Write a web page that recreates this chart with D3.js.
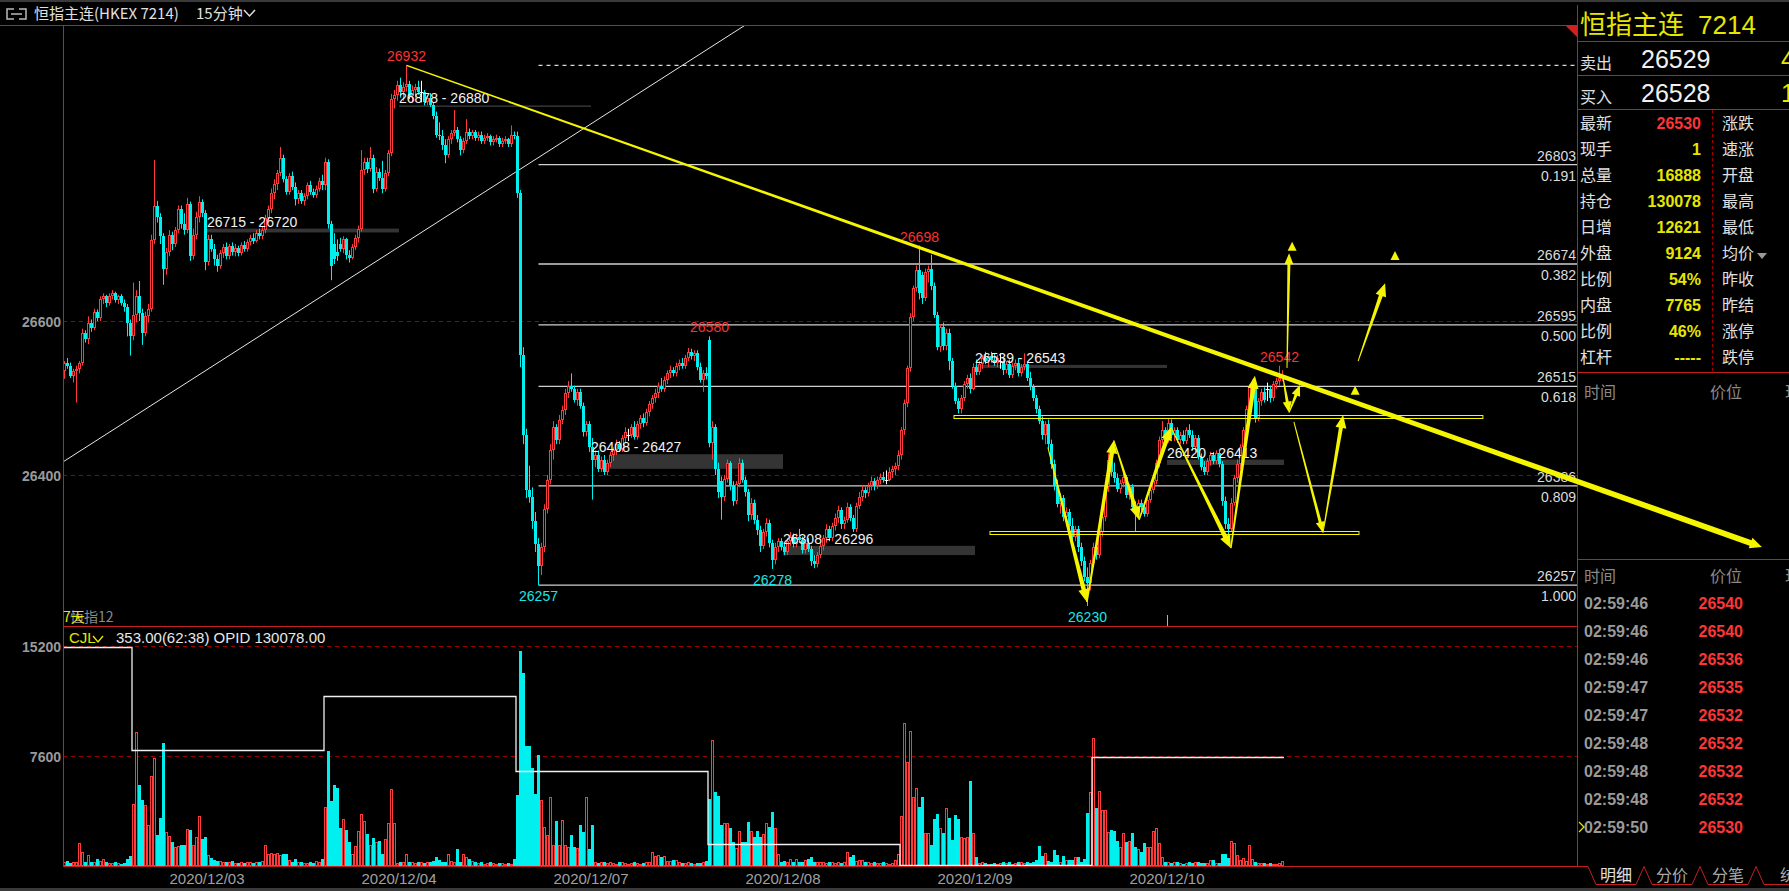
<!DOCTYPE html>
<html><head><meta charset="utf-8">
<script src="https://cdn.jsdelivr.net/npm/d3@7"></script>
<style>
html,body{margin:0;padding:0;background:#000;overflow:hidden}
svg{display:block}
text{font-family:"Liberation Sans",Arial,sans-serif}
.cjk{font-family:"Noto Sans CJK SC","Liberation Sans",sans-serif}
</style></head><body>
<svg id="c" width="1789" height="891"></svg>
<script>
// ---------------- DATA ----------------
// 15-minute bars [open, high, low, close]
const candles = [
// 12/02 night tail (0-22)
[26535,26548,26525,26545],[26545,26552,26538,26541],[26541,26546,26526,26528],[26528,26538,26520,26535],[26535,26542,26494,26538],
[26538,26548,26532,26545],[26545,26590,26542,26584],[26584,26588,26572,26576],[26576,26606,26570,26598],[26598,26602,26586,26591],
[26591,26616,26588,26612],[26612,26615,26600,26604],[26604,26632,26600,26628],[26628,26636,26622,26632],[26632,26634,26618,26624],
[26624,26636,26620,26632],[26632,26640,26628,26636],[26636,26638,26624,26627],[26627,26634,26622,26632],[26632,26635,26620,26624],
[26624,26628,26612,26618],[26618,26622,26580,26598],[26598,26602,26555,26580],
// 12/03 (23-86)
[26580,26650,26575,26608],[26608,26640,26598,26632],[26632,26652,26600,26610],[26610,26616,26569,26585],[26585,26612,26580,26606],
[26606,26622,26598,26616],[26616,26712,26612,26705],[26705,26809,26700,26750],[26750,26756,26728,26735],[26735,26740,26700,26710],
[26710,26714,26647,26668],[26668,26695,26660,26690],[26690,26718,26684,26712],[26712,26716,26692,26700],[26700,26722,26696,26718],
[26718,26750,26714,26745],[26745,26750,26720,26726],[26726,26740,26712,26718],[26718,26760,26714,26752],[26752,26755,26678,26684],
[26684,26720,26680,26712],[26712,26742,26706,26735],[26735,26762,26728,26755],[26755,26758,26735,26740],[26740,26744,26666,26676],
[26676,26712,26672,26706],[26706,26712,26690,26694],[26694,26700,26672,26680],[26680,26686,26664,26672],[26672,26692,26668,26688],
[26688,26700,26682,26696],[26696,26702,26680,26684],[26684,26700,26680,26697],[26697,26702,26685,26690],[26690,26700,26684,26695],
[26695,26698,26684,26688],[26688,26702,26685,26699],[26699,26704,26690,26694],
[26694,26706,26690,26702],[26702,26712,26698,26708],[26708,26714,26700,26704],[26704,26718,26702,26714],[26714,26720,26706,26710],
[26710,26722,26706,26718],[26718,26738,26714,26734],[26734,26750,26730,26746],[26746,26772,26740,26766],[26766,26784,26758,26778],
[26778,26796,26770,26792],[26792,26826,26788,26812],[26812,26816,26780,26784],[26784,26788,26764,26768],[26768,26792,26764,26788],
[26788,26794,26770,26774],[26774,26780,26750,26758],[26758,26770,26752,26766],[26766,26770,26752,26756],[26756,26766,26750,26762],
[26762,26780,26758,26776],[26776,26782,26764,26768],[26768,26772,26760,26764],[26764,26776,26760,26772],[26772,26786,26768,26782],
[26782,26790,26770,26776],
// 12/04 (87-150)
[26776,26812,26770,26806],[26806,26810,26720,26726],[26726,26730,26653,26672],[26700,26714,26674,26680],[26690,26706,26678,26684],
[26700,26708,26690,26694],[26694,26710,26688,26706],[26706,26708,26680,26686],[26686,26692,26676,26682],[26682,26700,26680,26696],
[26696,26712,26692,26708],[26708,26724,26702,26720],[26720,26822,26716,26796],[26796,26812,26790,26806],[26806,26812,26792,26798],
[26798,26826,26794,26812],[26812,26816,26766,26772],[26772,26800,26768,26794],[26794,26798,26782,26786],[26786,26808,26766,26772],
[26772,26796,26768,26792],[26792,26822,26788,26818],[26818,26895,26814,26888],[26888,26900,26876,26894],[26894,26912,26886,26906],
[26906,26916,26890,26898],[26898,26910,26886,26904],[26904,26932,26898,26908],[26908,26912,26888,26892],[26892,26906,26884,26900],
[26900,26908,26890,26904],[26904,26912,26894,26898],[26898,26912,26884,26898],[26898,26900,26880,26884],[26884,26892,26880,26890],
[26890,26896,26878,26880],[26880,26884,26862,26866],[26866,26872,26838,26842],[26842,26858,26835,26840],[26840,26848,26822,26828],
[26828,26836,26805,26815],[26815,26840,26812,26836],[26836,26848,26830,26844],[26844,26874,26840,26848],[26848,26852,26832,26836],
[26836,26840,26815,26822],[26822,26838,26818,26834],[26834,26862,26830,26846],[26846,26850,26836,26840],[26840,26848,26836,26845],
[26845,26848,26834,26838],[26838,26846,26834,26842],[26842,26846,26830,26834],[26834,26842,26830,26838],[26838,26844,26834,26840],
[26840,26842,26828,26832],[26832,26840,26828,26836],[26836,26842,26832,26838],[26838,26840,26826,26830],[26830,26838,26826,26834],
[26834,26840,26830,26836],[26836,26838,26826,26830],[26830,26854,26826,26842],[26842,26846,26836,26840],
// 12/07 (151-214)
[26840,26846,26760,26766],[26766,26770,26540,26556],[26556,26566,26440,26452],[26452,26460,26370,26380],[26380,26412,26364,26372],
[26372,26384,26330,26340],[26340,26352,26300,26310],[26310,26318,26257,26282],[26282,26312,26270,26306],[26306,26362,26300,26356],
[26356,26400,26350,26394],[26394,26440,26388,26432],[26432,26470,26420,26462],[26462,26466,26440,26446],[26446,26478,26440,26472],
[26472,26490,26466,26484],[26484,26512,26478,26506],[26506,26522,26500,26516],[26516,26532,26508,26512],[26512,26516,26494,26498],
[26498,26512,26490,26508],[26508,26512,26486,26490],[26490,26494,26450,26456],[26456,26470,26450,26466],[26466,26470,26430,26436],
[26436,26448,26368,26420],[26420,26432,26410,26426],[26426,26432,26404,26408],[26408,26424,26404,26420],[26420,26426,26400,26404],
[26404,26420,26400,26416],[26416,26430,26410,26426],[26426,26436,26418,26432],[26432,26446,26426,26440],[26440,26444,26430,26434],
[26434,26452,26430,26448],[26448,26462,26442,26456],[26452,26460,26444,26452],[26452,26466,26448,26462],[26462,26470,26446,26450],
[26450,26470,26446,26466],[26466,26478,26460,26474],[26474,26480,26462,26468],[26468,26486,26464,26482],[26482,26496,26476,26492],
[26492,26504,26486,26500],[26500,26512,26494,26506],[26506,26520,26500,26516],[26516,26526,26508,26512],[26512,26528,26508,26524],
[26524,26536,26518,26532],[26532,26542,26526,26536],[26536,26540,26528,26532],[26532,26546,26528,26542],[26542,26550,26536,26546],
[26546,26552,26538,26542],[26542,26556,26538,26552],[26552,26565,26548,26560],[26560,26564,26550,26554],[26554,26562,26548,26558],
[26558,26562,26536,26540],[26540,26546,26520,26524],[26524,26536,26508,26532],[26532,26540,26524,26528],
// 12/08 (215-278)
[26575,26580,26436,26442],[26442,26470,26420,26462],[26462,26466,26400,26408],[26408,26416,26370,26378],[26392,26398,26342,26372],
[26372,26400,26366,26395],[26395,26420,26390,26415],[26415,26418,26380,26386],[26386,26392,26360,26366],[26366,26392,26362,26388],
[26388,26422,26384,26416],[26416,26420,26390,26394],[26394,26398,26372,26378],[26378,26382,26340,26348],[26348,26370,26342,26364],
[26364,26368,26336,26342],[26342,26348,26322,26328],[26328,26334,26300,26308],[26308,26330,26304,26326],[26326,26344,26320,26338],
[26338,26342,26306,26312],[26312,26316,26278,26290],[26290,26312,26284,26306],[26306,26318,26300,26314],[26314,26318,26302,26306],
[26306,26312,26296,26300],[26300,26318,26296,26314],[26314,26326,26308,26320],[26320,26324,26306,26310],[26310,26324,26306,26320],
[26320,26330,26312,26316],[26316,26320,26298,26302],[26302,26316,26298,26312],[26312,26318,26300,26304],[26304,26308,26282,26288],
[26288,26296,26279,26284],[26284,26300,26280,26296],[26296,26312,26292,26308],[26308,26322,26302,26318],[26318,26336,26312,26330],
[26330,26334,26314,26318],[26318,26338,26314,26334],[26334,26350,26328,26344],[26344,26360,26338,26354],[26354,26358,26330,26336],
[26336,26346,26330,26342],[26342,26364,26338,26358],[26358,26362,26340,26344],[26344,26348,26326,26330],[26330,26364,26326,26360],
[26360,26378,26356,26372],[26372,26386,26366,26380],[26380,26384,26370,26376],[26376,26390,26372,26386],[26386,26398,26380,26392],
[26392,26396,26380,26386],[26386,26398,26382,26394],[26394,26402,26388,26398],[26398,26404,26390,26394],[26394,26406,26388,26394],
[26394,26410,26392,26404],[26404,26412,26396,26408],[26408,26416,26400,26412],[26412,26432,26406,26426],
// 12/09 (279-342)
[26426,26462,26420,26458],[26458,26498,26452,26494],[26494,26542,26488,26539],[26539,26610,26534,26605],[26605,26646,26600,26643],
[26643,26672,26638,26666],[26666,26698,26628,26636],[26660,26664,26622,26630],[26630,26668,26626,26664],[26664,26672,26650,26668],
[26668,26686,26640,26646],[26646,26650,26604,26608],[26608,26612,26562,26566],[26566,26596,26560,26592],[26592,26598,26562,26568],
[26568,26590,26562,26584],[26584,26590,26536,26548],[26548,26552,26512,26516],[26516,26520,26492,26496],[26496,26500,26480,26486],
[26486,26504,26480,26500],[26500,26522,26496,26518],[26518,26530,26512,26526],[26526,26532,26506,26512],[26512,26545,26510,26540],
[26540,26550,26530,26534],[26534,26548,26530,26544],[26544,26556,26538,26552],[26552,26560,26544,26548],[26548,26556,26540,26554],
[26554,26560,26546,26550],[26550,26558,26542,26545],[26545,26556,26540,26552],[26548,26558,26538,26548],[26548,26552,26530,26536],
[26536,26548,26532,26544],[26544,26550,26526,26530],[26530,26546,26526,26542],[26542,26550,26536,26546],[26546,26552,26528,26532],
[26532,26544,26528,26540],[26540,26558,26536,26544],[26544,26548,26522,26526],[26526,26534,26510,26514],[26514,26518,26496,26500],
[26500,26504,26480,26486],[26486,26490,26466,26470],[26470,26476,26446,26452],[26452,26470,26440,26466],[26466,26472,26434,26440],
[26440,26446,26408,26414],[26414,26420,26380,26386],[26386,26394,26358,26362],[26362,26376,26350,26370],[26370,26374,26340,26346],
[26346,26358,26334,26352],[26352,26356,26328,26334],[26334,26344,26316,26320],[26320,26334,26314,26330],[26330,26334,26300,26306],
[26306,26312,26282,26288],[26288,26294,26262,26268],[26268,26280,26230,26260],[26260,26290,26250,26286],
// 12/10 (343-406)
[26286,26312,26280,26306],[26306,26314,26290,26296],[26296,26330,26292,26326],[26326,26352,26320,26346],[26346,26390,26340,26384],
[26384,26428,26378,26420],[26420,26426,26398,26404],[26404,26416,26390,26396],[26396,26402,26378,26382],[26382,26394,26376,26390],
[26390,26404,26384,26398],[26398,26400,26370,26374],[26374,26388,26368,26384],[26384,26388,26354,26358],[26358,26366,26326,26352],
[26352,26368,26348,26364],[26364,26368,26354,26358],[26358,26364,26346,26350],[26350,26372,26346,26368],[26368,26384,26364,26380],
[26380,26396,26376,26392],[26392,26420,26388,26416],[26416,26450,26410,26446],[26446,26470,26440,26458],[26458,26462,26440,26446],
[26446,26474,26442,26468],[26468,26472,26448,26452],[26452,26462,26444,26458],[26458,26462,26442,26446],[26446,26456,26440,26452],
[26452,26458,26440,26444],[26444,26462,26440,26458],[26458,26466,26448,26452],[26452,26458,26432,26436],[26436,26452,26430,26448],
[26448,26452,26420,26424],[26424,26428,26406,26410],[26410,26418,26400,26404],[26404,26422,26400,26418],[26418,26430,26412,26426],
[26426,26430,26414,26418],[26418,26432,26414,26428],[26428,26432,26410,26414],[26414,26418,26360,26366],[26366,26372,26330,26336],
[26336,26344,26320,26330],[26330,26370,26326,26364],[26364,26400,26360,26396],[26396,26420,26390,26414],[26414,26440,26408,26436],
[26436,26462,26430,26458],[26458,26490,26452,26486],[26486,26518,26480,26514],[26514,26524,26506,26518],[26518,26522,26468,26474],
[26474,26500,26470,26496],[26496,26512,26490,26508],[26508,26514,26494,26498],[26512,26520,26496,26512],[26512,26516,26494,26500],
[26500,26522,26496,26518],[26518,26526,26512,26522],[26522,26542,26516,26526],[26526,26536,26522,26530]
];
// volume (CJL) per bar
const volumes = [
300,350,200,300,250,1600,970,300,760,250,300,480,350,500,280,200,180,250,200,150,180,480,700,
4300,9260,5600,4560,4200,2830,6220,7460,2140,3320,8500,2350,2070,1680,1330,1380,1450,1450,2560,2490,1450,2030,3450,1900,2000,760,530,400,
350,380,250,300,280,350,200,220,260,200,300,260,200,300,250,350,1450,810,900,820,900,760,800,800,400,300,450,250,300,200,220,250,200,350,250,480,
4080,7950,4500,5600,5400,2630,3250,2500,1660,800,1380,2420,3600,3100,2220,1450,1950,1660,1730,840,1850,3000,5300,2950,200,250,300,800,300,250,200,250,300,200,250,300,350,620,400,300,250,830,380,250,1180,300,830,600,500,350,300,200,250,150,200,250,200,150,200,180,150,200,150,500,
4900,14860,13340,8290,8290,6770,4980,7670,4560,2720,2140,4770,1450,3110,1450,3180,1450,1330,2140,1290,1220,2830,2370,4770,1150,2830,300,200,250,300,200,250,200,150,250,300,200,150,200,250,200,150,200,250,300,970,700,760,650,700,350,350,410,410,300,200,200,250,200,150,200,180,250,370,
4630,8700,5100,4850,2830,3000,3000,2650,1660,1250,2440,1680,1680,3040,2400,2000,2450,2000,2200,2950,2700,3730,2600,800,300,350,250,500,300,450,300,250,400,500,650,300,250,300,250,200,250,300,200,250,200,250,970,650,780,350,400,400,250,300,200,250,200,180,250,200,150,200,400,800,
3450,9880,7190,9330,4770,5390,4080,4770,2280,2300,1450,3250,3600,2630,2280,4010,3320,1800,3520,3250,2000,1950,2000,5870,2300,620,200,250,200,150,150,200,150,200,250,200,300,150,200,300,250,200,250,200,300,410,1380,690,920,350,300,1100,750,300,690,400,400,400,590,590,300,500,3680,5130,
8850,4000,5200,3850,3850,2350,2470,2400,1750,1290,2260,1680,1750,2260,1340,1150,990,1560,1290,1290,2420,2650,1560,640,300,250,200,250,300,200,150,200,250,200,300,250,230,230,200,410,410,230,230,830,830,550,1730,1600,740,410,530,350,1450,480,300,230,230,180,160,200,150,160,230,350
];
// daily step line in the volume pane (value per trading day, starting bar index)
const stepStarts = [-0.5, 22.5, 86.5, 150.5, 214.5, 278.5, 342.5];
const stepValues = [15100, 7990, 11750, 6570, 1520, 100, 7530];
const stepEnd = 406.5;
// axis ticks
const priceTicks = [26600, 26400];
const volTicks = [15200, 7600];
const dateLabels = ["2020/12/03","2020/12/04","2020/12/07","2020/12/08","2020/12/09","2020/12/10"];
const dateIdx = [47.5, 111.5, 175.5, 239.5, 303.5, 367.5];
// fibonacci retracement (anchored at low bar 158)
const fibStart = 158;
const fibLevels = [26932, 26803, 26674, 26595, 26515, 26386, 26257];
const fibRatios = ["0.000","0.191","0.382","0.500","0.618","0.809","1.000"];
// price zones: [startIdx, endIdx, low, high, label]
const zones = [
 [47.5,111.5,26715,26720,"26715 - 26720"],
 [111.5,175.5,26878,26880,"26878 - 26880"],
 [181.5,239.5,26408,26427,"26408 - 26427"],
 [239.5,303.5,26296,26308,"26308 - 26296"],
 [303.5,367.5,26539,26543,"26539 - 26543"],
 [367.5,406.5,26413,26420,"26420 - 26413"]
];
const zoneLabelIdx = [47.5,111.5,175.5,239.5,303.5,367.5];
// marked highs / lows [barIdx, price]
const highMarks = [[114,26932],[285,26698],[215,26580],[405,26542]];
const lowMarks = [[158,26257],[236,26278],[341,26230]];
// drawn trend lines
const trendDown = {from:[114,26932], to:[565.8,26306.5]};
const trendUp = {from:[-0.5,26417], to:[226.8,26984]};
const channels = [[296.5,472.8,26475],[308.5,431.5,26325]];
// yellow scenario arrows [fromIdx, fromPrice, toIdx, toPrice, tailW, headW]
const arrows = [
 [327.8,26436,340.8,26235,1,4.5],[340.8,26235,349.8,26445,1.5,4.5],[349.8,26445,358.2,26342,1,4],
 [358.2,26342,368.8,26462,1.5,4.5],[368.8,26462,388.8,26305,1,4.5],[388.8,26305,396.8,26529,1.5,4.5],
 [406.2,26526,408.2,26481,1,3],[408.2,26481,411.8,26517,1,3],[407.5,26539,408.2,26688,1,3],
 [409.8,26469,419.5,26325,1,3],[419.5,26325,426.2,26478,1,4],[431.2,26548,440.2,26649,1,4]
];
const arrowTips = [[409.2,26703],[430.2,26516],[443.5,26691]];
// right panel
const quoteLabelsL = ["最新","现手","总量","持仓","日增","外盘","比例","内盘","比例","杠杆"];
const quoteValues = ["26530","1","16888","130078","12621","9124","54%","7765","46%","-----"];
const quoteLabelsR = ["涨跌","速涨","开盘","最高","最低","均价","昨收","昨结","涨停","跌停"];
const tickTimes = ["02:59:46","02:59:46","02:59:46","02:59:47","02:59:47","02:59:48","02:59:48","02:59:48","02:59:50"];
const tickPrices = [26540,26540,26536,26535,26532,26532,26532,26532,26530];
const tabs = ["明细","分价","分笔","统"];

// ---------------- DRAW ----------------
const W=1789,H=891;
const PL=63, PR=1577, PT=25, PB=626, VB=866;
const RED='#ff3a3a', CYAN='#00f0f0', YEL='#f5f500', LINE='#c41e1e', DASH='#a00000';
const svg=d3.select('#c');
svg.append('rect').attr('width',W).attr('height',H).attr('fill','#000');
svg.append('rect').attr('width',W).attr('height',2).attr('fill','#3a3a3a');
svg.append('rect').attr('y',888).attr('width',W).attr('height',3).attr('fill','#3a3a3a');

const x=d3.scaleLinear().domain([-0.5,-0.5+(PR-PL)/3]).range([PL,PR]);
const y=d3.scaleLinear().domain([26400,26600]).range([475,321]);
const yv=d3.scaleLinear().domain([0,15200]).range([VB,646]);

const defs=svg.append('defs');
defs.append('clipPath').attr('id','cm').append('rect').attr('x',PL).attr('y',PT).attr('width',PR-PL).attr('height',PB-PT);
defs.append('clipPath').attr('id','cv').append('rect').attr('x',PL).attr('y',PB).attr('width',PR-PL).attr('height',VB-PB);

// grid dashed
priceTicks.forEach(p=>{
  const yy=Math.round(y(p))+0.5;
  svg.append('line').attr('x1',PL).attr('x2',PR).attr('y1',yy).attr('y2',yy).attr('stroke',DASH).attr('stroke-dasharray','4,4');
  svg.append('text').attr('x',61).attr('y',yy+5).attr('text-anchor','end').attr('fill','#9a9a9a').attr('font-weight','bold').attr('font-size',14).text(p);
});
volTicks.forEach(v=>{
  const yy=Math.round(yv(v))+0.5;
  svg.append('line').attr('x1',PL).attr('x2',PR).attr('y1',yy).attr('y2',yy).attr('stroke',DASH).attr('stroke-dasharray','4,4');
  svg.append('text').attr('x',61).attr('y',yy+5).attr('text-anchor','end').attr('fill','#9a9a9a').attr('font-weight','bold').attr('font-size',14).text(v);
});

// fib lines
const gm=svg.append('g').attr('clip-path','url(#cm)');
fibLevels.forEach((p,k)=>{
  const yy=y(p);
  const ln=gm.append('line').attr('x1',x(fibStart)).attr('x2',PR).attr('y1',yy).attr('y2',yy)
    .attr('stroke',k===0?'#d8d8d8':'#cfcfcf').attr('stroke-width',1.3);
  if(k===0) ln.attr('stroke-dasharray','4,4');
  else {
    svg.append('text').attr('x',1576).attr('y',yy-4).attr('text-anchor','end').attr('fill','#dcdcdc').attr('font-size',14).text(p);
    svg.append('text').attr('x',1576).attr('y',yy+16).attr('text-anchor','end').attr('fill','#dcdcdc').attr('font-size',14).text(fibRatios[k]);
  }
});

// zones
zones.forEach((z,k)=>{
  const y1=y(z[3]), y2=y(z[2]);
  gm.append('rect').attr('x',x(z[0])).attr('width',x(z[1])-x(z[0])).attr('y',y1).attr('height',Math.max(1.5,y2-y1)).attr('fill','#343434');
});

// white up trend line
gm.append('line').attr('x1',x(trendUp.from[0])).attr('y1',y(trendUp.from[1])).attr('x2',x(trendUp.to[0])).attr('y2',y(trendUp.to[1]))
  .attr('stroke','#e6e6e6').attr('stroke-width',1);

// candles
candles.forEach((d,i)=>{
  const [o,h,l,c]=d; const cx=x(i);
  if(o===c){
    gm.append('line').attr('x1',cx).attr('x2',cx).attr('y1',y(h)).attr('y2',y(l)).attr('stroke','#fff');
    gm.append('line').attr('x1',cx-2).attr('x2',cx+2).attr('y1',Math.round(y(o))+.5).attr('y2',Math.round(y(o))+.5).attr('stroke','#fff');
    return;
  }
  const up=c>o, col=up?RED:CYAN;
  gm.append('line').attr('x1',cx).attr('x2',cx).attr('y1',y(h)).attr('y2',y(l)).attr('stroke',col);
  const top=Math.round(y(Math.max(o,c))), bot=Math.round(y(Math.min(o,c)));
  if(up){
    gm.append('rect').attr('x',cx-1).attr('y',top+.5).attr('width',2).attr('height',Math.max(1,bot-top-1)).attr('fill','#000').attr('stroke',RED);
  } else {
    gm.append('rect').attr('x',cx-1.5).attr('y',top).attr('width',3).attr('height',Math.max(1,bot-top)).attr('fill',CYAN);
  }
});

// volume bars
const gv=svg.append('g').attr('clip-path','url(#cv)');
volumes.forEach((v,i)=>{
  const d=candles[i]; const up=d[3]>=d[0]; const cx=x(i);
  const top=Math.round(yv(v));
  if(up){
    gv.append('rect').attr('x',cx-1).attr('y',top+.5).attr('width',2).attr('height',Math.max(0.5,VB-top-1)).attr('fill','#000').attr('stroke',RED);
  } else {
    gv.append('rect').attr('x',cx-1.5).attr('y',top).attr('width',3).attr('height',Math.max(1,VB-top)).attr('fill',CYAN);
  }
});
// step line
const stepPts=[];
stepValues.forEach((v,k)=>{
  const e=k<stepValues.length-1?stepStarts[k+1]:stepEnd;
  stepPts.push([x(stepStarts[k]),Math.round(yv(v))+.5],[x(e),Math.round(yv(v))+.5]);
});
gv.append('path').attr('d',d3.line()(stepPts)).attr('fill','none').attr('stroke','#f0f0f0').attr('stroke-width',1.3);

// zone labels
zones.forEach((z,k)=>{
  svg.append('text').attr('x',x(zoneLabelIdx[k])).attr('y',y(z[3])-2).attr('fill','#f2f2f2').attr('font-size',14).text(z[4]);
});
// high / low marks
highMarks.forEach(m=>svg.append('text').attr('x',x(m[0])).attr('y',y(m[1])-4).attr('text-anchor','middle').attr('fill','#ff3030').attr('font-size',14).text(m[1]));
lowMarks.forEach(m=>svg.append('text').attr('x',x(m[0])).attr('y',y(m[1])+16).attr('text-anchor','middle').attr('fill','#19e6e6').attr('font-size',14).text(m[1]));

// channels (double yellow)
channels.forEach(c=>{
  svg.append('rect').attr('x',x(c[0])).attr('width',x(c[1])-x(c[0])).attr('y',Math.round(y(c[2]))-1.5).attr('height',3)
    .attr('fill','none').attr('stroke',YEL).attr('stroke-width',1);
});

// ----- frame lines
function hl(x1,x2,yy,col){svg.append('line').attr('x1',x1).attr('x2',x2).attr('y1',yy).attr('y2',yy).attr('stroke',col||LINE).attr('shape-rendering','crispEdges');}
function vl(xx,y1,y2,col){svg.append('line').attr('x1',xx).attr('x2',xx).attr('y1',y1).attr('y2',y2).attr('stroke',col||LINE).attr('shape-rendering','crispEdges');}
hl(0,PR,25.5); vl(PL+.5,25,VB); hl(PL,PR,PB+.5); hl(PL,1588,VB+.5); vl(PR+.5,5,VB);
hl(PR,W,41.5); hl(PR,W,75.5); hl(PR,W,109.5); hl(PR,W,372.5); hl(PR,W,559.5);
svg.append('line').attr('x1',1712.5).attr('x2',1712.5).attr('y1',110).attr('y2',372).attr('stroke',DASH).attr('stroke-dasharray','3,3');
svg.append('path').attr('d','M1565,25 L1577,25 L1577,37 Z').attr('fill','#d02020');
vl(x(367.5),615,626,'#b0b0b0');

// tabs
tabs.forEach((t,k)=>{
  const x0=1588+56*k;
  svg.append('path').attr('d',`M${x0},866.5 L${x0+8},884.5 L${x0+48},884.5 L${x0+56},866.5`).attr('fill','none').attr('stroke',LINE);
  svg.append('text').attr('class','cjk').attr('x',x0+28+(k===3?-4:0)).attr('y',881).attr('text-anchor',k===3?'start':'middle')
    .attr('fill',k===0?'#e0e0e0':'#a8a8a8').attr('font-size',16).text(t);
});

// header
svg.append('path').attr('d','M14,9 H7 V19 H14 M19,9 H26 V19 H19 M11,14 H22').attr('fill','none').attr('stroke','#bbb').attr('stroke-width',1.5);
svg.append('text').attr('class','cjk').attr('x',34).attr('y',19).attr('fill','#e0e0e0').attr('font-size',15).text('恒指主连(HKEX 7214)');
svg.append('text').attr('class','cjk').attr('x',196).attr('y',19).attr('fill','#e0e0e0').attr('font-size',15).text('15分钟');
svg.append('path').attr('d','M244,10 L249.5,16 L255,10').attr('fill','none').attr('stroke','#e0e0e0').attr('stroke-width',1.5);

// lower-left indicator labels
svg.append('text').attr('class','cjk').attr('x',70).attr('y',622).attr('fill','#8a8a8a').attr('font-size',14).text('恒指12');
svg.append('text').attr('class','cjk').attr('x',63).attr('y',622).attr('fill','#e6e600').attr('font-size',14).text('7天');
svg.append('text').attr('x',69).attr('y',643).attr('fill','#e6e600').attr('font-size',15).text('CJL');
svg.append('path').attr('d','M93,636 L98,642 L103,636').attr('fill','none').attr('stroke','#e6e600').attr('stroke-width',1.4);
svg.append('text').attr('x',116).attr('y',643).attr('fill','#e8e8e8').attr('font-size',15).text('353.00(62:38)  OPID 130078.00');

// date labels
dateLabels.forEach((t,k)=>svg.append('text').attr('x',x(dateIdx[k])).attr('y',884).attr('text-anchor','middle').attr('fill','#a0a0a0').attr('font-size',15).text(t));

// yellow arrows
function arrowPoly(x0,y0,x1,y1,w0,w1,hlen,hw){
  const dx=x1-x0, dy=y1-y0, L=Math.hypot(dx,dy), ux=dx/L, uy=dy/L, nx=-uy, ny=ux;
  const sx=x1-ux*hlen, sy=y1-uy*hlen;
  return [[x0+nx*w0/2,y0+ny*w0/2],[sx+nx*w1/2,sy+ny*w1/2],[sx+nx*hw/2,sy+ny*hw/2],[x1,y1],[sx-nx*hw/2,sy-ny*hw/2],[sx-nx*w1/2,sy-ny*w1/2],[x0-nx*w0/2,y0-ny*w0/2]];
}
const ag=svg.append('g');
ag.append('polygon').attr('points',arrowPoly(x(trendDown.from[0]),y(trendDown.from[1]),x(trendDown.to[0]),y(trendDown.to[1]),1.5,6,12,11).map(p=>p.join(',')).join(' ')).attr('fill',YEL);
arrows.forEach(a=>{
  const big=a[5]>=4;
  ag.append('polygon').attr('points',arrowPoly(x(a[0]),y(a[1]),x(a[2]),y(a[3]),a[4],a[5],big?13:11,big?11:9).map(p=>p.join(',')).join(' ')).attr('fill',YEL);
});
arrowTips.forEach(t=>{
  const tx=x(t[0]), ty=y(t[1]);
  ag.append('polygon').attr('points',`${tx},${ty} ${tx-4.5},${ty+9} ${tx+4.5},${ty+9}`).attr('fill',YEL);
});

// ----- right panel
const rp=svg.append('g');
rp.append('text').attr('x',1580).attr('y',34).attr('fill','#e6e600').attr('font-size',26)
  .call(t=>{t.append('tspan').attr('class','cjk').text('恒指主连');t.append('tspan').attr('dx',14).text('7214');});
rp.append('text').attr('class','cjk').attr('x',1580).attr('y',69).attr('fill','#e0e0e0').attr('font-size',16).text('卖出');
rp.append('text').attr('x',1641).attr('y',68).attr('fill','#f0f0f0').attr('font-size',25).text('26529');
rp.append('text').attr('x',1781).attr('y',68).attr('fill','#e6e600').attr('font-size',25).text('4');
rp.append('text').attr('class','cjk').attr('x',1580).attr('y',103).attr('fill','#e0e0e0').attr('font-size',16).text('买入');
rp.append('text').attr('x',1641).attr('y',102).attr('fill','#f0f0f0').attr('font-size',25).text('26528');
rp.append('text').attr('x',1781).attr('y',102).attr('fill','#e6e600').attr('font-size',25).text('1');
quoteLabelsL.forEach((t,k)=>{
  const yy=129+26*k;
  rp.append('text').attr('class','cjk').attr('x',1580).attr('y',yy).attr('fill','#e0e0e0').attr('font-size',16).text(t);
  rp.append('text').attr('x',1701).attr('y',yy).attr('text-anchor','end').attr('font-weight','bold').attr('font-size',16)
    .attr('fill',k===0?'#ff3535':'#e6e600').text(quoteValues[k]);
  rp.append('text').attr('class','cjk').attr('x',1722).attr('y',yy).attr('fill','#e0e0e0').attr('font-size',16).text(quoteLabelsR[k]);
});
rp.append('path').attr('d','M1757,253 L1767,253 L1762,259 Z').attr('fill','#9a9a9a');
[398,582].forEach(yy=>{
  rp.append('text').attr('class','cjk').attr('x',1584).attr('y',yy).attr('fill','#8a8a8a').attr('font-size',16).text('时间');
  rp.append('text').attr('class','cjk').attr('x',1710).attr('y',yy).attr('fill','#8a8a8a').attr('font-size',16).text('价位');
  rp.append('text').attr('class','cjk').attr('x',1785).attr('y',yy).attr('fill','#8a8a8a').attr('font-size',16).text('现');
});
tickTimes.forEach((t,k)=>{
  const yy=609+28*k;
  rp.append('text').attr('x',1584).attr('y',yy).attr('fill','#9a9a9a').attr('font-weight','bold').attr('font-size',16).text(t);
  rp.append('text').attr('x',1743).attr('y',yy).attr('text-anchor','end').attr('fill','#ff3535').attr('font-weight','bold').attr('font-size',16).text(tickPrices[k]);
});
rp.append('path').attr('d','M1579,822 L1584,827 L1579,832').attr('fill','none').attr('stroke','#e6e600').attr('stroke-width',1.3);
</script>
</body></html>
